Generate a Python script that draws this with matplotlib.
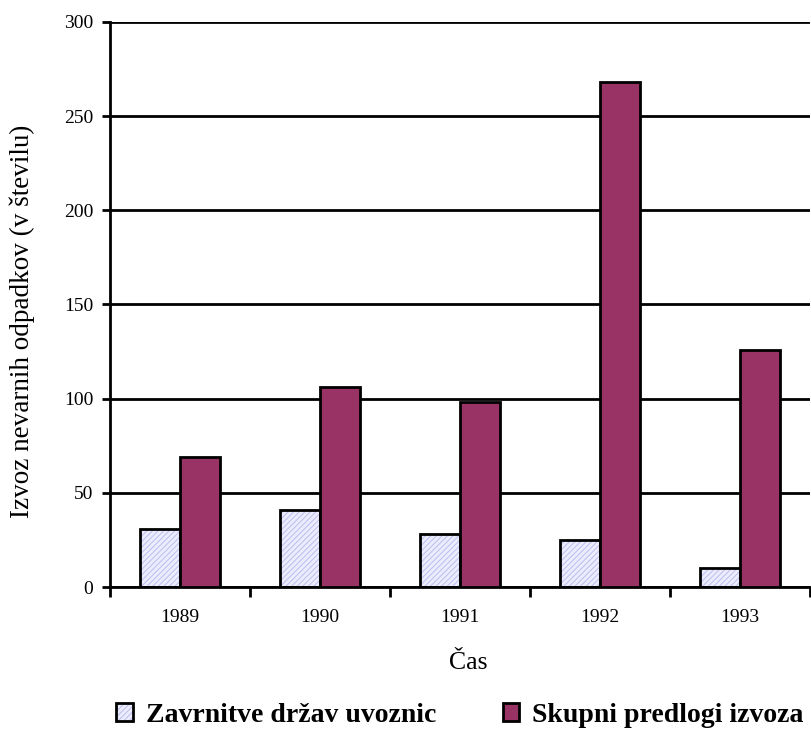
import matplotlib
matplotlib.use('Agg')
import matplotlib.pyplot as plt
import matplotlib.patches as mpatches
import numpy as np
from matplotlib.legend_handler import HandlerTuple

# podatki
leta = ['1989', '1990', '1991', '1992', '1993']
zavrnitve = [31, 41, 28, 25, 10]
predlogi = [69, 106, 98, 268, 126]
ime_zavrnitve = 'Zavrnitve držav uvoznic'
ime_predlogi = 'Skupni predlogi izvoza'

plt.rcParams['font.family'] = ['Liberation Serif', 'DejaVu Serif']
plt.rcParams['hatch.linewidth'] = 0.7

svetla = '#ececff'
vzorec = '#bcbcec'
temna = '#993366'

fig = plt.figure(figsize=(8.11, 7.31), dpi=100)
ax = fig.add_axes([110 / 811, 144 / 731, 700 / 811, 565 / 731])

x = np.arange(len(leta))
w = 1 / 3.5

# svetli stolpci s vzorcem, nato obroba
ax.bar(x - w / 2, zavrnitve, w, color=svetla, edgecolor=vzorec,
       hatch='//////', linewidth=0, zorder=2)
ax.bar(x - w / 2, zavrnitve, w, fill=False, edgecolor='black',
       linewidth=2, zorder=3)
ax.bar(x + w / 2, predlogi, w, color=temna, edgecolor='black',
       linewidth=2, zorder=3)

ax.set_xlim(-0.5, len(leta) - 0.5)
ax.set_ylim(0, 300)
ax.set_yticks(np.arange(0, 301, 50))
ax.yaxis.grid(True, color='black', linewidth=2)
ax.set_axisbelow(True)

ax.set_xticks(x)
ax.set_xticklabels(leta)
ax.set_xticks(np.arange(-0.5, len(leta), 1), minor=True)
ax.tick_params(axis='x', which='major', length=0, pad=16, labelsize=14)
ax.tick_params(axis='x', which='minor', length=7, width=2, direction='out')
ax.tick_params(axis='y', length=6, width=2, direction='out', pad=6,
               labelsize=14)

for s in ['top', 'right']:
    ax.spines[s].set_visible(False)
for s in ['left', 'bottom']:
    ax.spines[s].set_linewidth(2)

fig.text(22 / 811, 1 - 321 / 731, 'Izvoz nevarnih odpadkov (v številu)',
         rotation=90, ha='center', va='center', fontsize=19.5)
fig.text(468 / 811, 1 - 663 / 731, 'Čas', ha='center', va='center',
         fontsize=18.5)

# legenda
h1 = (mpatches.Patch(facecolor=svetla, edgecolor=vzorec, hatch='//////',
                     linewidth=0),
      mpatches.Patch(fill=False, edgecolor='black', linewidth=2))
h2 = mpatches.Patch(facecolor=temna, edgecolor='black', linewidth=2)
fig.legend([h1, h2], [ime_zavrnitve, ime_predlogi],
           handler_map={tuple: HandlerTuple(ndivide=1, pad=0)},
           loc='center', bbox_to_anchor=(0.567, 1 - 715 / 731), ncol=2,
           frameon=False, borderpad=0, handlelength=0.6, handleheight=0.6,
           handletextpad=0.45, columnspacing=2.4,
           prop={'size': 20, 'weight': 'bold'})

fig.savefig('out.png', dpi=100)
